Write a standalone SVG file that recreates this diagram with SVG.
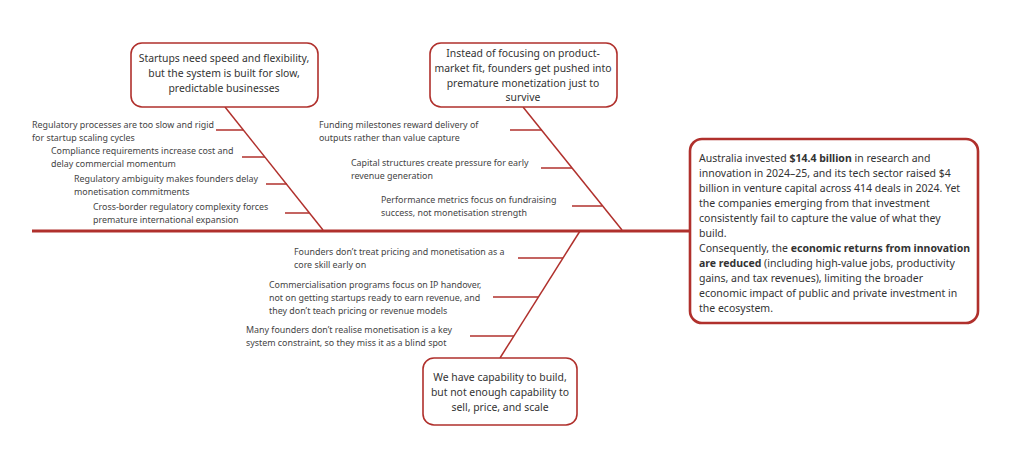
<svg xmlns="http://www.w3.org/2000/svg" width="1024" height="469" viewBox="0 0 1024 469">
<style>
.box{fill:#fff;stroke:#b0302c;stroke-width:1.6}
.bigbox{fill:#fff;stroke:#b0302c;stroke-width:2.6}
.bone{stroke:#b0302c;stroke-width:1.5;fill:none}
.spine{stroke:#b0302c;stroke-width:3;fill:none}
.t{font-family:"Noto Sans","Open Sans",sans-serif;font-size:10.4px;fill:#333}
.c{text-anchor:middle}
.s{font-family:"Noto Sans","Open Sans",sans-serif;font-size:8.9px;fill:#444}
.r{font-family:"Noto Sans","Open Sans",sans-serif;font-size:10.5px;fill:#333}
.b{font-weight:bold}
</style>
<rect width="1024" height="469" fill="#fff"/>
<g id="connectors">
<line class="spine" x1="32" y1="231" x2="690" y2="231"/>
<line class="bone" x1="225" y1="107" x2="323" y2="230"/>
<line class="bone" x1="216" y1="130" x2="243" y2="130"/>
<line class="bone" x1="242" y1="157" x2="265" y2="157"/>
<line class="bone" x1="266" y1="184" x2="287" y2="184"/>
<line class="bone" x1="285" y1="213" x2="309" y2="213"/>
<line class="bone" x1="523" y1="107" x2="622" y2="230"/>
<line class="bone" x1="510" y1="130" x2="542" y2="130"/>
<line class="bone" x1="541" y1="168" x2="572" y2="168"/>
<line class="bone" x1="572" y1="206" x2="602" y2="206"/>
<line class="bone" x1="580" y1="231" x2="500" y2="358"/>
<line class="bone" x1="518" y1="258" x2="563" y2="258"/>
<line class="bone" x1="493" y1="297" x2="538" y2="297"/>
<line class="bone" x1="470" y1="336" x2="514" y2="336"/>
</g>
<g id="cause1">
<rect class="box" x="131" y="43" width="187" height="64" rx="11"/>
<text class="t c" x="224" y="62">Startups need speed and flexibility,</text>
<text class="t c" x="224" y="77">but the system is built for slow,</text>
<text class="t c" x="224" y="92">predictable businesses</text>
</g>
<g id="cause1-items">
<text class="s" x="32" y="128">Regulatory processes are too slow and rigid</text>
<text class="s" x="32" y="141">for startup scaling cycles</text>
<text class="s" x="51" y="154">Compliance requirements increase cost and</text>
<text class="s" x="51" y="167">delay commercial momentum</text>
<text class="s" x="74" y="182">Regulatory ambiguity makes founders delay</text>
<text class="s" x="74" y="195">monetisation commitments</text>
<text class="s" x="93" y="210">Cross-border regulatory complexity forces</text>
<text class="s" x="93" y="223">premature international expansion</text>
</g>
<g id="cause2">
<rect class="box" x="430" y="43" width="187" height="64" rx="11"/>
<text class="t c" x="523" y="57">Instead of focusing on product-</text>
<text class="t c" x="523" y="72">market fit, founders get pushed into</text>
<text class="t c" x="523" y="87">premature monetization just to</text>
<text class="t c" x="523" y="101">survive</text>
</g>
<g id="cause2-items">
<text class="s" x="319" y="128">Funding milestones reward delivery of</text>
<text class="s" x="319" y="141">outputs rather than value capture</text>
<text class="s" x="351" y="166">Capital structures create pressure for early</text>
<text class="s" x="351" y="179">revenue generation</text>
<text class="s" x="381" y="203">Performance metrics focus on fundraising</text>
<text class="s" x="381" y="216">success, not monetisation strength</text>
</g>
<g id="cause3">
<rect class="box" x="423" y="358" width="154" height="67" rx="11"/>
<text class="t c" x="500" y="381">We have capability to build,</text>
<text class="t c" x="500" y="396">but not enough capability to</text>
<text class="t c" x="500" y="411">sell, price, and scale</text>
</g>
<g id="cause3-items">
<text class="s" x="294" y="255">Founders don’t treat pricing and monetisation as a</text>
<text class="s" x="294" y="268">core skill early on</text>
<text class="s" x="269" y="288">Commercialisation programs focus on IP handover,</text>
<text class="s" x="269" y="301">not on getting startups ready to earn revenue, and</text>
<text class="s" x="269" y="314">they don’t teach pricing or revenue models</text>
<text class="s" x="246" y="333">Many founders don’t realise monetisation is a key</text>
<text class="s" x="246" y="346">system constraint, so they miss it as a blind spot</text>
</g>
<g id="effect">
<rect class="bigbox" x="690" y="139" width="288" height="184" rx="12"/>
<text class="r" x="699" y="162">Australia invested <tspan class="b">$14.4 billion</tspan> in research and</text>
<text class="r" x="699" y="177">innovation in 2024–25, and its tech sector raised $4</text>
<text class="r" x="699" y="192">billion in venture capital across 414 deals in 2024. Yet</text>
<text class="r" x="699" y="207">the companies emerging from that investment</text>
<text class="r" x="699" y="222">consistently fail to capture the value of what they</text>
<text class="r" x="699" y="237">build.</text>
<text class="r" x="699" y="252">Consequently, the <tspan class="b">economic returns from innovation</tspan></text>
<text class="r" x="699" y="267"><tspan class="b">are reduced</tspan> (including high-value jobs, productivity</text>
<text class="r" x="699" y="282">gains, and tax revenues), limiting the broader</text>
<text class="r" x="699" y="297">economic impact of public and private investment in</text>
<text class="r" x="699" y="312">the ecosystem.</text>
</g>
</svg>
